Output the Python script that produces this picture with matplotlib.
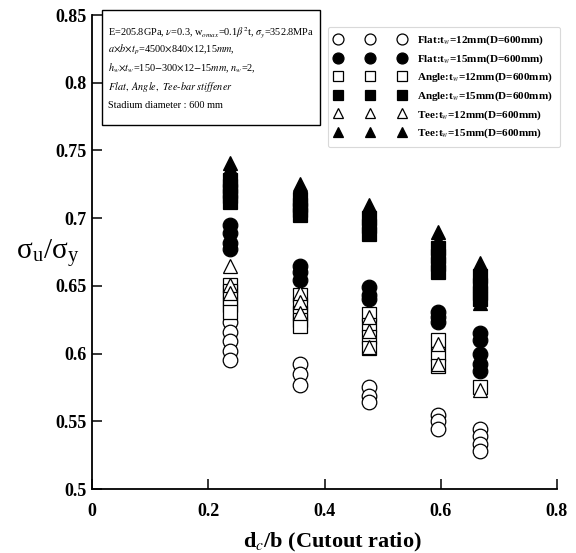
import matplotlib
matplotlib.use("Agg")
import matplotlib.pyplot as plt
from matplotlib.lines import Line2D
from matplotlib.patches import Rectangle

plt.rcParams["font.family"] = ["Liberation Serif", "DejaVu Serif"]
plt.rcParams["mathtext.fontset"] = "stix"

# Cutout ratios d_c/b of the five openings (b = 840 mm)
cutout = [0.238, 0.357, 0.476, 0.595, 0.667]

# Ultimate strength ratios for each stiffener case, one list per cutout ratio
flat_12 = [[0.623, 0.616, 0.609, 0.602, 0.595],
           [0.592, 0.585, 0.577],
           [0.575, 0.569, 0.564],
           [0.555, 0.550, 0.544],
           [0.544, 0.539, 0.533, 0.528]]
flat_15 = [[0.695, 0.689, 0.682, 0.677],
           [0.665, 0.660, 0.654],
           [0.649, 0.643, 0.640],
           [0.631, 0.627, 0.623],
           [0.615, 0.610, 0.600, 0.592, 0.587]]
angle_12 = [[0.651, 0.646, 0.641, 0.636, 0.631],
            [0.643, 0.636, 0.630, 0.625, 0.620],
            [0.629, 0.621, 0.612, 0.604],
            [0.610, 0.600, 0.591],
            [0.575]]
angle_15 = [[0.728, 0.724, 0.720, 0.716, 0.712],
            [0.714, 0.710, 0.706, 0.702],
            [0.700, 0.694, 0.688],
            [0.678, 0.672, 0.666, 0.660],
            [0.657, 0.651, 0.645, 0.640]]
tee_12 = [[0.665, 0.651, 0.645],
          [0.645, 0.638, 0.630],
          [0.627, 0.617, 0.605],
          [0.607, 0.592],
          [0.573]]
tee_15 = [[0.741, 0.737, 0.733, 0.729],
          [0.725, 0.720, 0.716],
          [0.710, 0.705],
          [0.690, 0.684],
          [0.667, 0.662, 0.637]]

series = [
    ("Flat:t$_w$=12mm(D=600mm)", flat_12, "o", "white"),
    ("Flat:t$_w$=15mm(D=600mm)", flat_15, "o", "black"),
    ("Angle:t$_w$=12mm(D=600mm)", angle_12, "s", "white"),
    ("Angle:t$_w$=15mm(D=600mm)", angle_15, "s", "black"),
    ("Tee:t$_w$=12mm(D=600mm)", tee_12, "^", "white"),
    ("Tee:t$_w$=15mm(D=600mm)", tee_15, "^", "black"),
]

fig = plt.figure(figsize=(5.76, 5.53), dpi=100)
ax = fig.add_axes([92 / 576, 1 - 489 / 553, 465 / 576, 474 / 553])

handles = []
for label, groups, marker, face in series:
    xs, ys = [], []
    for xc, vals in zip(cutout, groups):
        xs += [xc] * len(vals)
        ys += vals
    ax.plot(xs, ys, linestyle="none", marker=marker, markersize=10.5,
            markerfacecolor=face, markeredgecolor="black",
            markeredgewidth=0.9, zorder=3)
    handles.append(Line2D([], [], linestyle="none", marker=marker,
                          markersize=10.5, markerfacecolor=face,
                          markeredgecolor="black", markeredgewidth=0.9,
                          label=label))

ax.set_xlim(0, 0.8)
ax.set_ylim(0.5, 0.85)
ax.set_xticks([0, 0.2, 0.4, 0.6, 0.8])
ax.set_xticklabels(["0", "0.2", "0.4", "0.6", "0.8"])
ax.set_yticks([0.5, 0.55, 0.6, 0.65, 0.7, 0.75, 0.8, 0.85])
ax.set_yticklabels(["0.5", "0.55", "0.6", "0.65", "0.7", "0.75", "0.8", "0.85"])
ax.tick_params(direction="in", length=7, width=1.1, labelsize=13)
ax.tick_params(axis="x", pad=10)
ax.tick_params(axis="y", pad=4)
for lbl in ax.get_xticklabels() + ax.get_yticklabels():
    lbl.set_fontweight("bold")
ax.spines["top"].set_visible(False)
ax.spines["right"].set_visible(False)
for s in ("left", "bottom"):
    ax.spines[s].set_linewidth(1.3)

fig.text(0.577, 1 - 542 / 553, "d$_c$/b (Cutout ratio)", fontsize=16,
         fontweight="bold", ha="center", va="center")
fig.text(48 / 576, 1 - 254 / 553,
         "σ$_{\\mathregular{u}}$/σ$_{\\mathregular{y}}$",
         fontsize=21, ha="center", va="center")

leg = fig.legend(handles=handles, numpoints=3, loc="upper left",
                 bbox_to_anchor=(328 / 576, 1 - 27 / 553), frameon=True,
                 fancybox=True, prop={"weight": "bold", "size": 8.0},
                 markerscale=0.75, handlelength=6.4, handletextpad=1.05,
                 labelspacing=0.46, borderpad=0.6, borderaxespad=0.0)
leg.get_frame().set_edgecolor("#d0d0d0")
leg.get_frame().set_linewidth(0.8)

# Parameter box in the upper left corner
fig.add_artist(Rectangle((102 / 576, 1 - 125 / 553), 218 / 576, 115 / 553,
                         transform=fig.transFigure, facecolor="white",
                         edgecolor="black", linewidth=1.0, zorder=4))
info_lines = [
    "E=205.8GPa, $\\nu$=0.3, w$_{omax}$=0.1$\\beta^2$t, $\\sigma_y$=352.8MPa",
    "$a{\\times}b{\\times}t_p$=4500$\\times$840$\\times$12,15$mm$,",
    "$h_w{\\times}t_w$=150$-$300$\\times$12$-$15$mm$, $n_w$=2,",
    "$Flat,\\ Angle,\\ Tee\\text{-}bar\\ stiffener$",
    "Stadium diameter : 600 mm",
]
info_y = [32, 50, 68, 87, 105]
for line, yp in zip(info_lines, info_y):
    fig.text(108 / 576, 1 - yp / 553, line, fontsize=7.4, ha="left",
             va="center", zorder=5)

fig.savefig("out.png", dpi=100)
